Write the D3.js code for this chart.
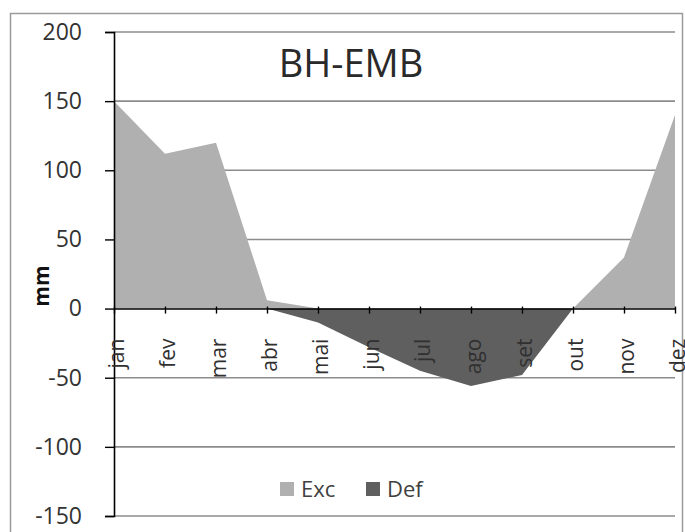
<!DOCTYPE html>
<html>
<head>
<meta charset="utf-8">
<script src="https://d3js.org/d3.v7.min.js"></script>
<style>
  html, body { margin: 0; padding: 0; background: #fff; }
  svg { display: block; }
  text { font-family: "Open Sans", "Liberation Sans", Arial, sans-serif; }
</style>
</head>
<body>
<svg id="chart" width="685" height="532"></svg>
<script>
const months = ["jan","fev","mar","abr","mai","jun","jul","ago","set","out","nov","dez"];
const excValues = [150, 112, 120, 6, 0, 0, 0, 0, 0, 0, 37, 140];
const defValues = [0, 0, 0, 0, -10, -28, -45, -56, -48, 0, 0, 0];
const yTicks = [200, 150, 100, 50, 0, -50, -100, -150];
const seriesNames = ["Exc", "Def"];
const title = "BH-EMB";
const yLabel = "mm";

const FONT = "'Open Sans', 'Liberation Sans', Arial, sans-serif";
const svg = d3.select("#chart");

// outer chart border
svg.append("rect").attr("x", 10.5).attr("y", 13.5).attr("width", 672).attr("height", 540)
  .attr("fill", "#fff").attr("stroke", "#9a9a9a").attr("stroke-width", 1.5);

const x = d3.scalePoint().domain(months).range([114, 675]);
const y = d3.scaleLinear().domain([-150, 200]).range([516, 32]);

// gridlines
svg.append("g").selectAll("line").data(yTicks.filter(d => d !== 0)).join("line")
  .attr("x1", 114).attr("x2", 675)
  .attr("y1", d => y(d)).attr("y2", d => y(d))
  .attr("stroke", "#8c8c8c").attr("stroke-width", 1.6);

// areas
const area = d3.area().x((d, i) => x(months[i])).y0(y(0)).y1(d => y(d));
svg.append("path").datum(excValues).attr("d", area).attr("fill", "#b0b0b0");
svg.append("path").datum(defValues).attr("d", area).attr("fill", "#5f5f5f");

// y axis
const yAxis = d3.axisLeft(y).tickValues(yTicks).tickSize(9).tickPadding(0).tickFormat(d => String(d));
const gy = svg.append("g").attr("transform", "translate(114,0)").call(yAxis);
gy.select(".domain").attr("stroke", "#000").attr("stroke-width", 1.6);
gy.selectAll(".tick line").attr("stroke", "#000").attr("stroke-width", 1.4);
gy.selectAll(".tick text").attr("x", -32).attr("font-size", 23).attr("fill", "#333")
  .attr("font-family", FONT);

// x axis at zero
const xAxis = d3.axisBottom(x).tickSize(5).tickSizeOuter(0);
const gx = svg.append("g").attr("transform", `translate(0,${y(0)})`).call(xAxis);
gx.select(".domain").attr("stroke", "#000").attr("stroke-width", 1.6);
gx.selectAll(".tick line").attr("stroke", "#000").attr("stroke-width", 1.4).attr("y1", -2);
gx.selectAll(".tick text")
  .attr("font-size", 21).attr("fill", "#303030")
  .attr("font-family", FONT)
  .attr("text-anchor", "end")
  .attr("dy", "0.35em")
  .attr("x", 0).attr("y", 0)
  .attr("transform", "translate(2,30) rotate(-90)");

// y label
svg.append("text").attr("transform", "translate(42,286) rotate(-90)")
  .attr("text-anchor", "middle").attr("dy", "0.35em")
  .attr("font-size", 21).attr("font-weight", "bold").attr("fill", "#111").text(yLabel);

// title
svg.append("text").attr("x", 351).attr("y", 77).attr("text-anchor", "middle")
  .attr("font-size", 38).attr("fill", "#2a2a2a").text(title);

// legend
const legendColors = ["#b0b0b0", "#5f5f5f"];
const legX = [280, 366];
const leg = svg.append("g");
seriesNames.forEach((n, i) => {
  leg.append("rect").attr("x", legX[i]).attr("y", 482).attr("width", 14).attr("height", 14).attr("fill", legendColors[i]);
  leg.append("text").attr("x", legX[i] + 21).attr("y", 497).attr("font-size", 22).attr("fill", "#404040").text(n);
});
</script>
</body>
</html>
